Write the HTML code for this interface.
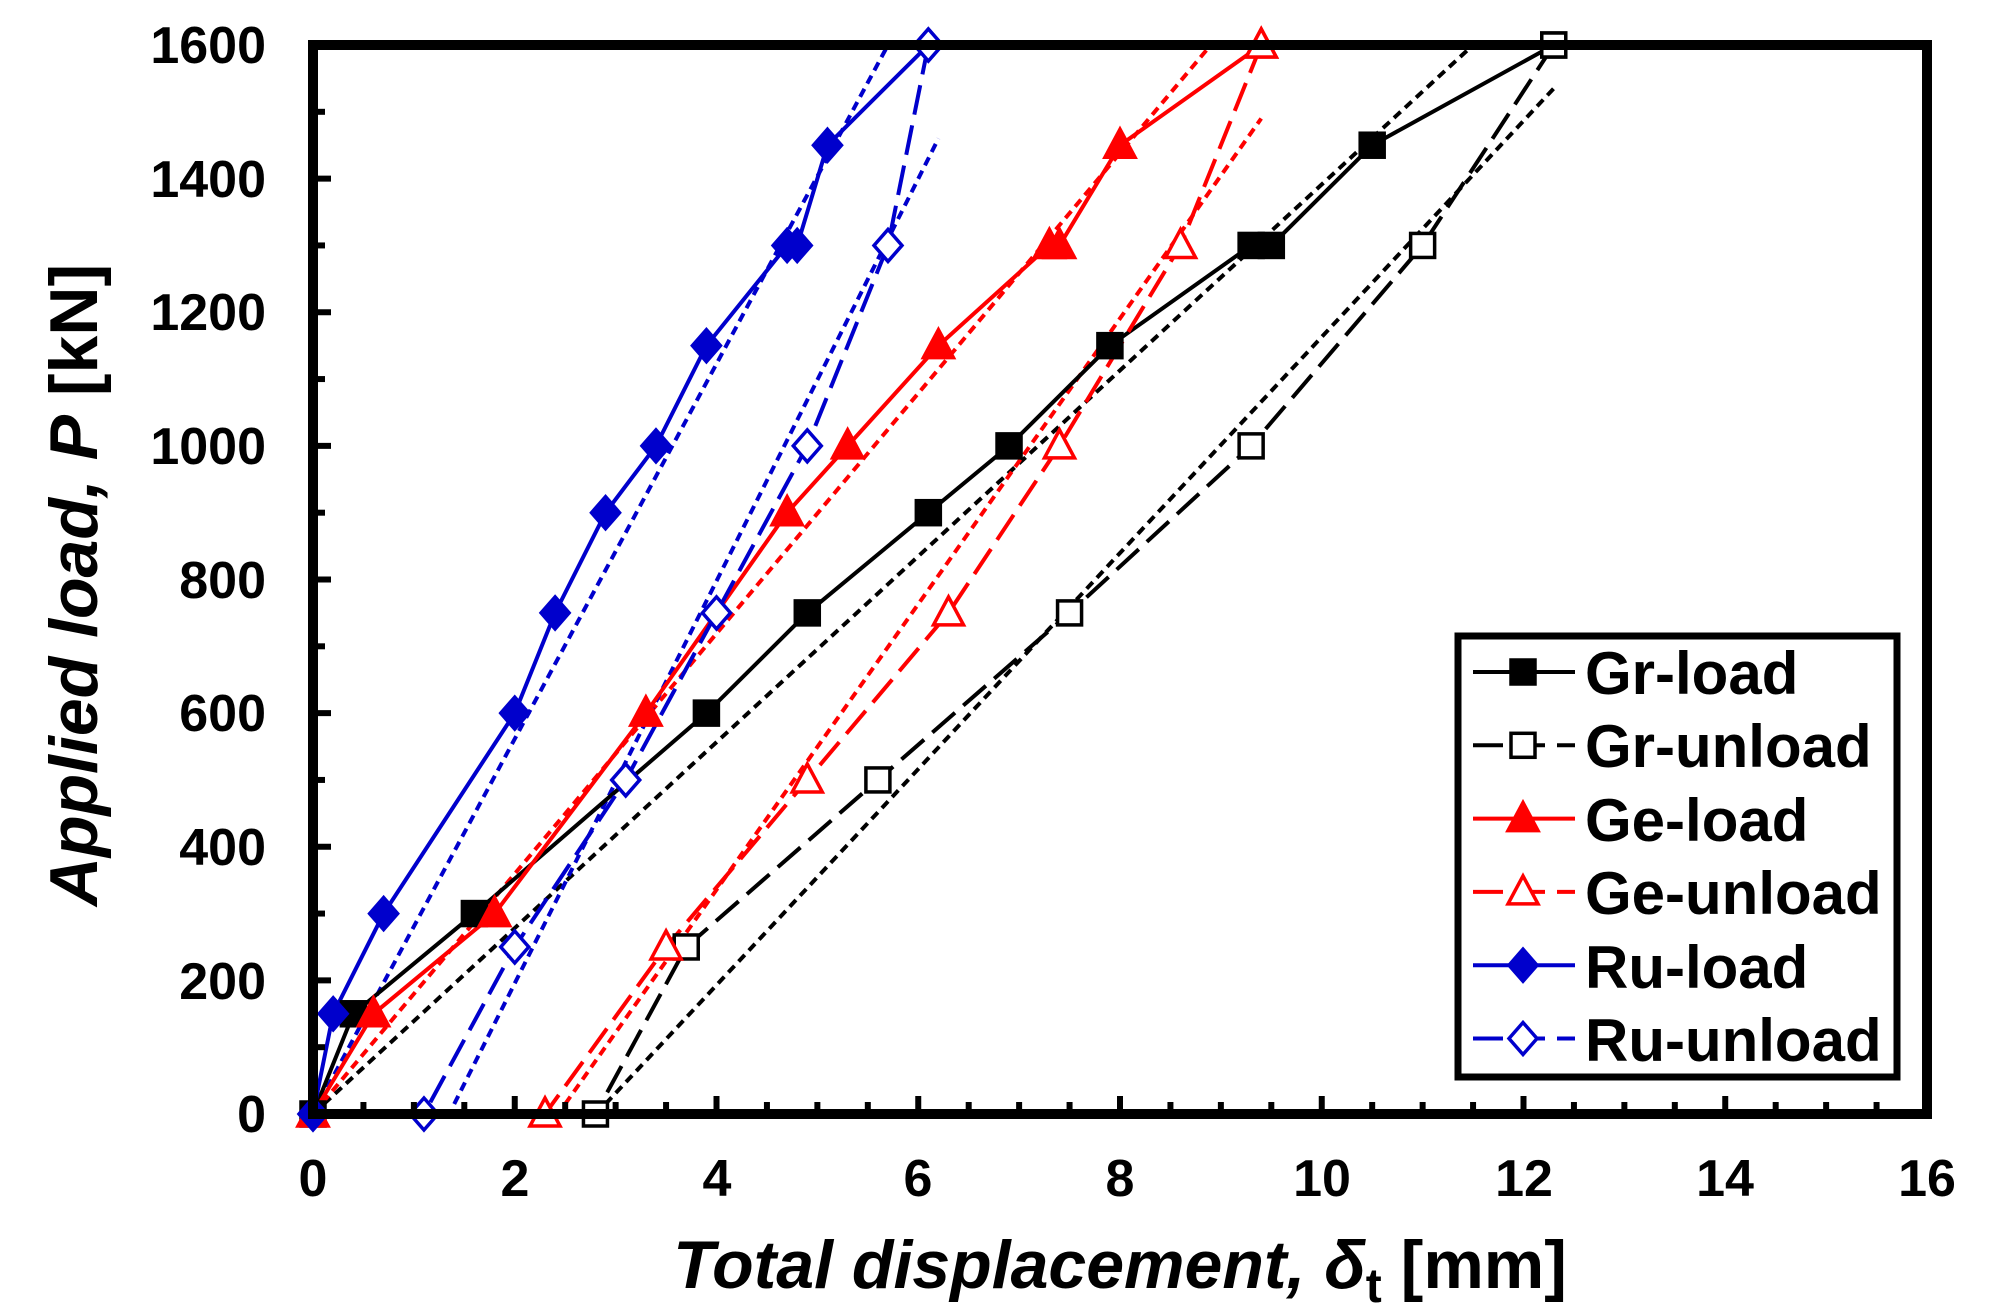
<!DOCTYPE html>
<html><head><meta charset="utf-8"><style>
html,body{margin:0;padding:0;background:#fff;}
svg{display:block;font-family:"Liberation Sans",Arial,sans-serif;font-weight:bold;}
</style></head><body>
<svg id="s" width="2012" height="1314" viewBox="0 0 2012 1314" xmlns="http://www.w3.org/2000/svg">
<g id="plot"></g>
<rect x="313" y="45" width="1614" height="1069" fill="none" stroke="#000" stroke-width="10"/>
<g id="ticks"></g>
<g font-size="52" text-anchor="end">
<text x="266" y="63">1600</text><text x="266" y="197">1400</text><text x="266" y="330">1200</text>
<text x="266" y="464">1000</text><text x="266" y="598">800</text><text x="266" y="731">600</text>
<text x="266" y="865">400</text><text x="266" y="999">200</text><text x="266" y="1132">0</text>
</g>
<g font-size="52" text-anchor="middle">
<text x="313" y="1196">0</text><text x="515" y="1196">2</text><text x="717" y="1196">4</text>
<text x="918" y="1196">6</text><text x="1120" y="1196">8</text><text x="1322" y="1196">10</text>
<text x="1524" y="1196">12</text><text x="1725" y="1196">14</text><text x="1927" y="1196">16</text>
</g>
<text x="1120" y="1288" font-size="68" text-anchor="middle"><tspan font-style="italic">Total displacement, δ</tspan><tspan font-size="48" dy="14">t</tspan><tspan dy="-14"> [mm]</tspan></text>
<text transform="translate(97,585) rotate(-90)" font-size="68" text-anchor="middle"><tspan font-style="italic">Applied load, P</tspan> [kN]</text>
<rect x="1458" y="636" width="439" height="441" fill="#fff" stroke="#000" stroke-width="7"/>
<g id="leg"></g>
<g font-size="60">
<text x="1585" y="694">Gr-load</text><text x="1585" y="767">Gr-unload</text>
<text x="1585" y="841">Ge-load</text><text x="1585" y="914">Ge-unload</text>
<text x="1585" y="988">Ru-load</text><text x="1585" y="1061">Ru-unload</text>
</g>
</svg>
<script>
var NS="http://www.w3.org/2000/svg";
function X(v){return 313+v*100.875;}function Y(v){return 1114-v*1069/1600;}
function el(p,t,a){var e=document.createElementNS(NS,t);for(var k in a)e.setAttribute(k,a[k]);p.appendChild(e);return e;}
var plot=document.getElementById('plot'),ticks=document.getElementById('ticks'),leg=document.getElementById('leg');
for(var i=1;i<32;i++){var x=X(i/2),L=(i%4==0)?18:12;el(ticks,'line',{x1:x,x2:x,y1:1114,y2:1114-L,stroke:'#000','stroke-width':6});}
for(var i=1;i<16;i++){var y=Y(i*100),L=(i%2==0)?18:12;el(ticks,'line',{x1:313,x2:313+L,y1:y,y2:y,stroke:'#000','stroke-width':6});}
function line(pts,c,dash,w){el(plot,'polyline',{points:pts.map(function(p){return X(p[0])+','+Y(p[1]);}).join(' '),fill:'none',stroke:c,'stroke-width':w||4,'stroke-dasharray':dash||'none'});}
function mark(p,x,y,type,c,fill){var s=12;
 if(type=='sq')el(p,'rect',{x:x-s,y:y-s,width:2*s,height:2*s,fill:fill?c:'#fff',stroke:c,'stroke-width':3.5});
 else if(type=='tri')el(p,'polygon',{points:(x)+','+(y-s-4)+' '+(x+s+3)+','+(y+s)+' '+(x-s-3)+','+(y+s),fill:fill?c:'#fff',stroke:c,'stroke-width':3.5});
 else el(p,'polygon',{points:x+','+(y-s-4)+' '+(x+s+2)+','+y+' '+x+','+(y+s+4)+' '+(x-s-2)+','+y,fill:fill?c:'#fff',stroke:c,'stroke-width':3.5});}
var K='#000',R='#ff0000',B='#0000cc';
var S=[
 {c:K,t:'sq',f:1,d:[[0,0],[0.4,150],[1.6,300],[3.9,600],[4.9,750],[6.1,900],[6.9,1000],[7.9,1150],[9.3,1300],[9.5,1300],[10.5,1450],[12.3,1600]]},
 {c:K,t:'sq',f:0,d:[[12.3,1600],[11,1300],[9.3,1000],[7.5,750],[5.6,500],[3.7,250],[2.8,0]]},
 {c:R,t:'tri',f:1,d:[[0,0],[0.6,150],[1.8,300],[3.3,600],[4.7,900],[5.3,1000],[6.2,1150],[7.3,1300],[7.4,1300],[8,1450],[9.4,1600]]},
 {c:R,t:'tri',f:0,d:[[9.4,1600],[8.6,1300],[7.4,1000],[6.3,750],[4.9,500],[3.5,250],[2.3,0]]},
 {c:B,t:'dia',f:1,d:[[0,0],[0.2,150],[0.7,300],[2,600],[2.4,750],[2.9,900],[3.4,1000],[3.9,1150],[4.7,1300],[4.8,1300],[5.1,1450],[6.1,1600]]},
 {c:B,t:'dia',f:0,d:[[6.1,1600],[5.7,1300],[4.9,1000],[4,750],[3.1,500],[2,250],[1.1,0]]}];
line([[0,0],[11.5,1600]],K,'9,6');line([[2.9,15],[12.3,1535]],K,'9,6');
line([[0,0],[8.9,1600]],R,'9,6');line([[2.5,15],[9.4,1490]],R,'9,6');
line([[0,0],[5.7,1600]],B,'9,6');line([[1.4,15],[6.2,1460]],B,'9,6');
S.forEach(function(s){line(s.d,s.c,s.f?'none':'30,11');});
S.forEach(function(s){s.d.forEach(function(p){mark(plot,X(p[0]),Y(p[1]),s.t,s.c,s.f);});});
S.forEach(function(s,i){var y=672+i*73.3;
 el(leg,'line',{x1:1473,x2:1575,y1:y,y2:y,stroke:s.c,'stroke-width':4,'stroke-dasharray':s.f?'none':'30,12'});
 mark(leg,1523,y,s.t,s.c,s.f);});
</script>
</body></html>
